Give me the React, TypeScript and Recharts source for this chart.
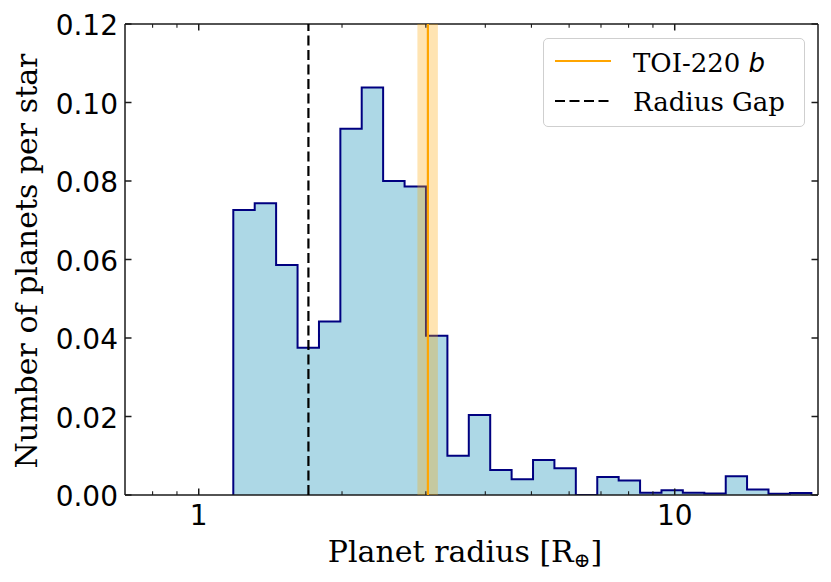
import React from 'react';
import { ComposedChart, Area, XAxis, YAxis, ReferenceLine, ReferenceArea, Legend, Label } from 'recharts';

// log-spaced bin edges of the radius histogram [R_earth]
const binEdges = [
  1.182, 1.311, 1.454, 1.613, 1.789, 1.984, 2.2, 2.44, 2.707, 3.002, 3.33, 3.693, 4.096, 4.543,
  5.039, 5.588, 6.198, 6.875, 7.625, 8.457, 9.38, 10.4, 11.54, 12.8, 14.19, 15.74, 17.46, 19.37,
];
// occurrence per bin (one value per bin)
const planetsPerStar = [
  0.0726, 0.0743, 0.0586, 0.0375, 0.0442, 0.0933, 0.1038, 0.08, 0.0786, 0.0406, 0.01, 0.0204, 0.0064,
  0.004, 0.0089, 0.0068, 0, 0.0046, 0.0037, 0.0006, 0.0012, 0.0006, 0.0004, 0.0048, 0.0014, 0.0003, 0.0005,
];

const xTicks = [0.8, 0.9, 1, 2, 3, 4, 5, 6, 7, 8, 9, 10];
const xMajor = [1, 10];
const yTicks = [0, 0.02, 0.04, 0.06, 0.08, 0.1, 0.12];

const radiusGap = 1.7;
const toi220b = 3.03;
const toi220bLow = 2.88;
const toi220bHigh = 3.18;

// step outline: up from the baseline, one point per bin, back down at the last edge
const stepData = [
  { r: binEdges[0], n: 0 },
  ...planetsPerStar.map((n, i) => ({ r: binEdges[i], n })),
  { r: binEdges[binEdges.length - 1], n: 0 },
];

const SPINE = '#1a1a1a';

const BottomTick = ({ x, y, payload }: any) => {
  const major = xMajor.includes(payload.value);
  return (
    <g>
      <line x1={x} x2={x} y1={y} y2={y - (major ? 6.5 : 3.7)} stroke={SPINE} strokeWidth={major ? 1.5 : 1.1} />
      {major && (
        <text x={x} y={y + 30} textAnchor="middle" fontFamily="DejaVu Sans" fontSize={28} fill="#000">
          {payload.value}
        </text>
      )}
    </g>
  );
};

const TopTick = ({ x, y, payload }: any) => {
  const major = xMajor.includes(payload.value);
  return <line x1={x} x2={x} y1={y} y2={y + (major ? 6.5 : 3.7)} stroke={SPINE} strokeWidth={major ? 1.5 : 1.1} />;
};

const LeftTick = ({ x, y, payload }: any) => (
  <g>
    <line x1={x} x2={x + 6.5} y1={y} y2={y} stroke={SPINE} strokeWidth={1.5} />
    <text x={x - 7} y={y + 11} textAnchor="end" fontFamily="DejaVu Sans" fontSize={28} fill="#000">
      {payload.value.toFixed(2)}
    </text>
  </g>
);

const RightTick = ({ x, y }: any) => <line x1={x} x2={x - 6.5} y1={y} y2={y} stroke={SPINE} strokeWidth={1.5} />;

const LegendBox = () => (
  <div
    style={{
      width: 262,
      height: 89,
      boxSizing: 'border-box',
      border: '1.3px solid #cfcfcf',
      borderRadius: 5,
      background: 'rgba(255,255,255,0.8)',
      position: 'relative',
    }}
  >
    <svg width={262} height={89} style={{ position: 'absolute', left: 0, top: 0 }}>
      <line x1={11} x2={67} y1={22} y2={22} stroke="#ffa500" strokeWidth={2.2} />
      <line x1={11} x2={67} y1={62} y2={62} stroke="#000" strokeWidth={2.2} strokeDasharray="10 4.5" />
      <text x={89} y={33} fontFamily="DejaVu Serif" fontSize={26} fill="#000">
        TOI-220{' '}
        <tspan fontFamily="DejaVu Sans" fontStyle="italic">
          b
        </tspan>
      </text>
      <text x={89} y={72} fontFamily="DejaVu Serif" fontSize={26} fill="#000">
        Radius Gap
      </text>
    </svg>
  </div>
);

export default function App() {
  return (
    <div style={{ position: 'absolute', left: 0, top: 0, background: '#fff' }}>
      <ComposedChart width={831} height={582} data={stepData} margin={{ top: 23, right: 12, bottom: 0, left: 0 }}>
        <XAxis
          dataKey="r"
          type="number"
          scale="log"
          domain={[0.7, 20]}
          allowDataOverflow
          ticks={xTicks}
          interval={0}
          height={87}
          tickSize={0}
          tickMargin={0}
          tickLine={false}
          tick={BottomTick}
          axisLine={{ stroke: SPINE, strokeWidth: 1.5 }}
        >
          <Label
            content={() => (
              <text x={465} y={562} textAnchor="middle" fontFamily="DejaVu Serif" fontSize={30} fill="#000">
                Planet radius [R
                <tspan dy={5} fontSize={20}>
                  ⊕
                </tspan>
                <tspan dy={-5}>]</tspan>
              </text>
            )}
          />
        </XAxis>
        <XAxis
          xAxisId="top"
          orientation="top"
          dataKey="r"
          type="number"
          scale="log"
          domain={[0.7, 20]}
          allowDataOverflow
          ticks={xTicks}
          interval={0}
          height={1}
          tickSize={0}
          tickMargin={0}
          tickLine={false}
          tick={TopTick}
          axisLine={{ stroke: SPINE, strokeWidth: 1.5 }}
        />
        <YAxis
          type="number"
          domain={[0, 0.12]}
          allowDataOverflow
          ticks={yTicks}
          interval={0}
          width={125}
          tickSize={0}
          tickMargin={0}
          tickLine={false}
          tick={LeftTick}
          axisLine={{ stroke: SPINE, strokeWidth: 1.5 }}
        >
          <Label
            content={() => (
              <text
                transform="translate(37,261) rotate(-90)"
                textAnchor="middle"
                fontFamily="DejaVu Serif"
                fontSize={30}
                fill="#000"
              >
                Number of planets per star
              </text>
            )}
          />
        </YAxis>
        <YAxis
          yAxisId="right"
          orientation="right"
          type="number"
          domain={[0, 0.12]}
          allowDataOverflow
          ticks={yTicks}
          interval={0}
          width={1}
          tickSize={0}
          tickMargin={0}
          tickLine={false}
          tick={RightTick}
          axisLine={{ stroke: SPINE, strokeWidth: 1.5 }}
        />
        <Area
          type="stepAfter"
          dataKey="n"
          stroke="#000080"
          strokeWidth={2}
          fill="#add8e6"
          fillOpacity={1}
          isAnimationActive={false}
          dot={false}
          activeDot={false}
        />
        <ReferenceArea x1={toi220bLow} x2={toi220bHigh} fill="#ffa500" fillOpacity={0.3} stroke="none" zIndex={1500} />
        <ReferenceLine x={toi220b} stroke="#ffa500" strokeWidth={2.2} zIndex={1600} />
        <ReferenceLine x={radiusGap} stroke="#000" strokeWidth={2.2} strokeDasharray="10 4.5" zIndex={1600} />
        <Legend
          layout="horizontal"
          verticalAlign="middle"
          align="center"
          wrapperStyle={{ left: 543, top: 38, width: 262, height: 89 }}
          content={LegendBox}
        />
      </ComposedChart>
    </div>
  );
}
